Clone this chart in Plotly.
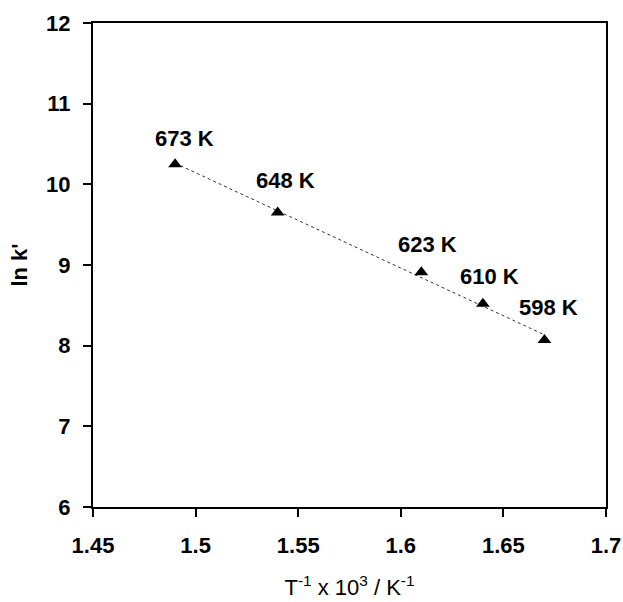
import numpy as np
import plotly.graph_objects as go

inv_T = [1.49, 1.54, 1.61, 1.64, 1.67]
ln_k = [10.25, 9.65, 8.91, 8.52, 8.07]
temp_labels = ["673 K", "648 K", "623 K", "610 K", "598 K"]
x_ticks = [1.45, 1.5, 1.55, 1.6, 1.65, 1.7]
x_ticktext = ["1.45", "1.5", "1.55", "1.6", "1.65", "1.7"]
y_ticks = [6, 7, 8, 9, 10, 11, 12]

# label offsets in pixels (x, y) relative to each point
label_dx = [9, 8, 6, 7, 4]
label_dy = [26, 32, 28, 27, 33]

slope, intercept = np.polyfit(inv_T, ln_k, 1)
fit_x = [min(inv_T), max(inv_T)]
fit_y = [slope * v + intercept for v in fit_x]

font_family = "Liberation Sans, Arial, sans-serif"

fig = go.Figure()
fig.add_trace(go.Scatter(
    x=fit_x, y=fit_y, mode="lines",
    line=dict(color="#333333", width=1, dash="dot"),
    hoverinfo="skip", showlegend=False))
fig.add_trace(go.Scatter(
    x=inv_T, y=ln_k, mode="markers",
    marker=dict(symbol="triangle-up", size=12, color="black"),
    showlegend=False))

for xv, yv, t, dx, dy in zip(inv_T, ln_k, temp_labels, label_dx, label_dy):
    fig.add_annotation(x=xv, y=yv, text="<b>%s</b>" % t, showarrow=False,
                       xshift=dx, yshift=dy,
                       font=dict(family=font_family, size=22, color="black"))

fig.update_layout(
    width=623, height=602,
    margin=dict(l=93, r=17, t=22.5, b=94.5),
    paper_bgcolor="white", plot_bgcolor="white",
    font=dict(family=font_family, color="black"),
    xaxis=dict(range=[1.45, 1.7], tickvals=x_ticks,
               ticktext=["<b>%s</b>" % t for t in x_ticktext],
               ticks="outside", ticklen=8, tickwidth=2, tickcolor="black",
               ticklabelstandoff=10, automargin=False,
               showline=True, linewidth=2, linecolor="black", mirror=True,
               showgrid=False, zeroline=False,
               tickfont=dict(size=22, family=font_family),
               title=dict(text="T<sup>-1</sup> x 10<sup>3</sup> / K<sup>-1</sup>",
                          font=dict(size=22, family=font_family), standoff=22)),
    yaxis=dict(range=[6, 12], tickvals=y_ticks,
               ticktext=["<b>%d</b>" % v for v in y_ticks],
               ticks="outside", ticklen=8, tickwidth=2, tickcolor="black",
               ticklabelstandoff=8, automargin=False,
               showline=True, linewidth=2, linecolor="black", mirror=True,
               showgrid=False, zeroline=False,
               tickfont=dict(size=22, family=font_family),
               title=dict(text="<b>ln k'</b>", font=dict(size=22, family=font_family),
                          standoff=12)),
)

fig.write_html(
    "out.html",
    config={"displayModeBar": False},
    post_script=(
        "document.body.style.margin='0';"
        "document.body.style.overflow='hidden';"
        "document.documentElement.style.overflow='hidden';"
    ),
)
